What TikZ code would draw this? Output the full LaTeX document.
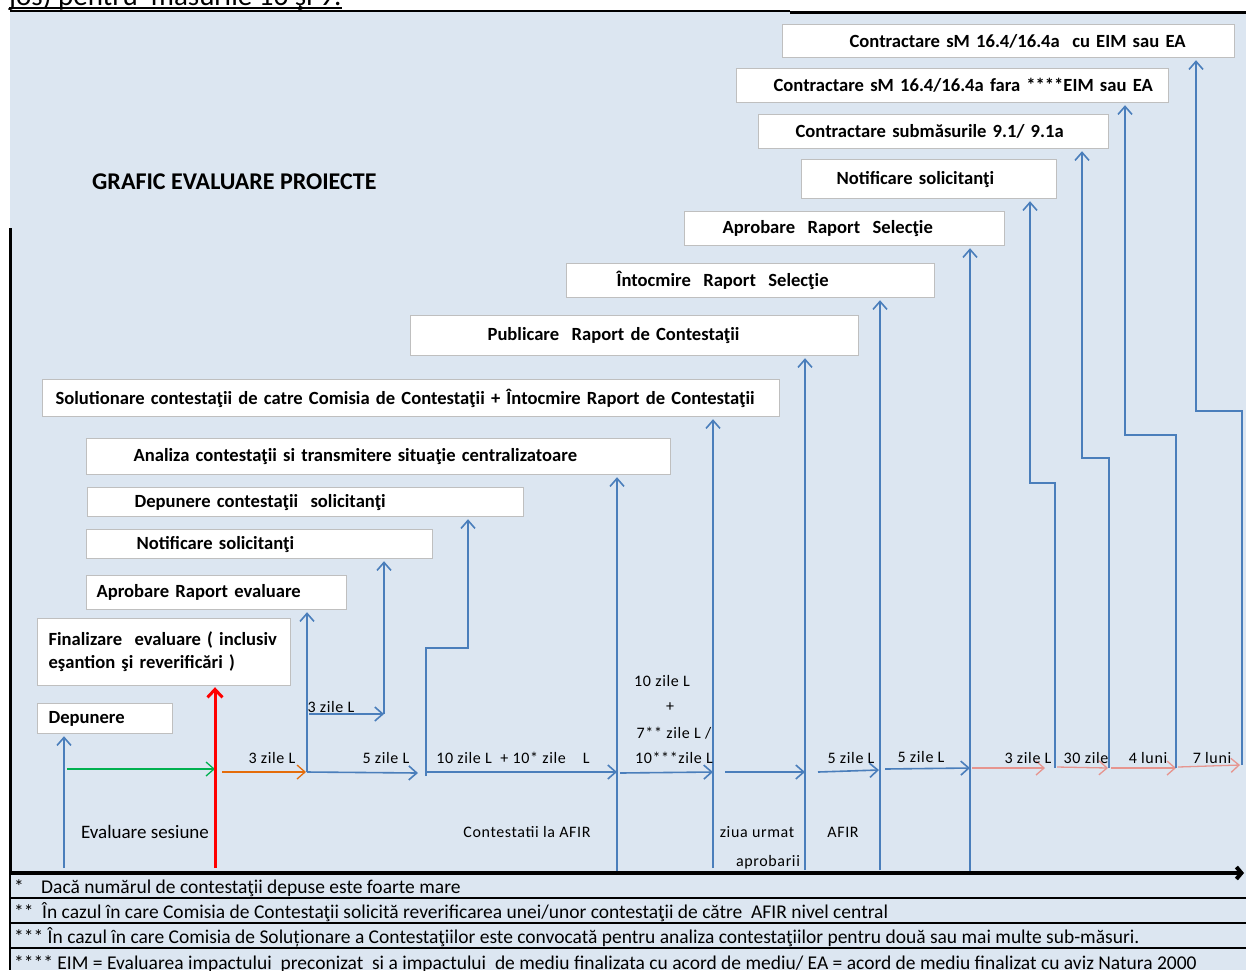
\documentclass[tikz,border=0pt]{standalone}
\usepackage{fontspec}
\setmainfont{Carlito}
\newfontfamily\lblfont[LetterSpace=4]{Carlito}
\usetikzlibrary{arrows.meta}

\definecolor{bgblue}{HTML}{DCE6F1}
\definecolor{lineblue}{HTML}{4A7EBB}
\definecolor{boxgray}{HTML}{BFBFBF}
\definecolor{pinkline}{HTML}{E6958F}
\definecolor{orangeline}{HTML}{E46C0A}
\definecolor{greenline}{HTML}{00B050}

\newcommand*{\boxfont}{\bfseries\fontsize{18.6}{23}\selectfont}
\newcommand*{\lblsize}{\lblfont\fontsize{16}{19}\selectfont}
\newcommand*{\notefont}{\fontsize{19.5}{22}\selectfont}

\begin{document}
\begin{tikzpicture}
[
	x=1pt, y=-1pt,
	box/.style={draw=boxgray, line width=1.2pt, fill=white, font=\boxfont, anchor=north west, align=left, inner xsep=0pt, inner ysep=0pt},
	arr/.style={lineblue, line width=1.6pt, -{Straight Barb[length=8pt,width=14pt]}},
	uparr/.style={arr, shorten >=2pt},
	lbl/.style={font=\lblsize, inner sep=0pt},
	note/.style={font=\notefont, anchor=base west, inner sep=0pt}
]

	\useasboundingbox (0,0) rectangle (1246,970);
	\clip (0,0) rectangle (1246,970);

	% background and frame
	\fill[bgblue] (10,12) rectangle (1246,970);
	\node[anchor=base west, inner sep=0pt, font=\fontsize{29}{33}\selectfont] (headline) at (9,5) {jos) pentru\ \ măsurile 16 şi 9.};
	\draw[line width=1.3pt] ([yshift=-3pt]headline.base west) -- ([yshift=-3pt]headline.base east);
	\draw[line width=1.5pt] (10,11) -- (790,11);
	\draw[line width=3pt] (790,12) -- (1246,12);
	\draw[line width=3pt] (10,228) -- (10,875);

	% title
	\node[font=\bfseries\fontsize{24}{28}\selectfont, anchor=west, inner sep=0pt] (title) at (92,182) {GRAFIC EVALUARE PROIECTE};

	% boxes
	\node[box, text width=452pt, minimum height=33pt] (cEIM) at (782,24) {\hspace*{67pt}Contractare sM 16.4/16.4a\ \ cu EIM sau EA};
	\node[box, text width=432pt, minimum height=34pt] (cFara) at (736,68) {\hspace*{37pt}Contractare sM 16.4/16.4a fara ****EIM sau EA};
	\node[box, text width=350pt, minimum height=34pt] (cNoua) at (758,114) {\hspace*{37pt}Contractare submăsurile 9.1/ 9.1a};
	\node[box, text width=255pt, minimum height=39pt] (notifB) at (801,159) {\hspace*{35pt}Notificare solicitanţi};
	\node[box, text width=320pt, minimum height=34pt] (aprSel) at (684,211) {\hspace*{38pt}Aprobare\ \ Raport\ \ Selecţie};
	\node[box, text width=368pt, minimum height=34pt] (intocSel) at (566,263) {\hspace*{50pt}Întocmire\ \ Raport\ \ Selecţie};
	\node[box, text width=448pt, minimum height=40pt] (publCont) at (410,315) {\hspace*{77pt}Publicare\ \ Raport de Contestaţii};
	\node[box, text width=737pt, minimum height=37pt] (solCont) at (42,379) {\hspace*{13pt}Solutionare contestaţii de catre Comisia de Contestaţii + Întocmire Raport de Contestaţii};
	\node[box, text width=584pt, minimum height=36pt] (analiza) at (86,438) {\hspace*{47pt}Analiza contestaţii si transmitere situaţie centralizatoare};
	\node[box, text width=436pt, minimum height=29pt] (depCont) at (87,487) {\hspace*{47pt}Depunere contestaţii\ \ solicitanţi};
	\node[box, text width=346pt, minimum height=29pt] (notifA) at (86,529) {\hspace*{50pt}Notificare solicitanţi};
	\node[box, text width=260pt, minimum height=34pt] (aprEval) at (86,575) {\hspace*{10pt}Aprobare Raport evaluare};
	\node[box, text width=253pt, minimum height=67pt] (finEval) at (37,618) {\hspace*{11pt}Finalizare\ \ evaluare ( inclusiv\\\hspace*{11pt}eşantion şi reverificări )\\[4pt]};
	\node[box, text width=135pt, minimum height=30pt] (depunere) at (37,703) {\hspace*{11pt}Depunere\\[-2pt]};

	% evaluare sesiune
	\coordinate (s0) at (64,868);
	\draw[uparr] (s0) -- (s0 |- depunere.south);
	\coordinate (g0) at (67,769);
	\coordinate (g1) at (215,769);
	\draw[arr, greenline, line width=1.3pt] (g0) -- (g1);
	\coordinate (r0) at (215,868);
	\draw[red, line width=3pt, -{Straight Barb[length=8pt,width=15pt]}, shorten >=1pt] (r0) -- (r0 |- finEval.south);
	\coordinate (o0) at (222,772);
	\coordinate (o1) at (306,772);
	\draw[arr, orangeline, line width=1.3pt] (o0) -- (o1);

	% evaluare -> contestatii
	\coordinate (e0) at (307,772);
	\draw[uparr] (e0) -- (e0 |- aprEval.south);
	\coordinate (e1) at (418,773);
	\draw[arr] (e0) -- (e1);
	\coordinate (h0) at (309,714);
	\coordinate (h1) at (384,714);
	\draw[arr] (h0) -- (h1);
	\draw[uparr] (h1) -- (h1 |- notifA.south);
	\coordinate (i0) at (426,776);
	\coordinate (i1) at (468,648);
	\draw[uparr] (i0) |- (i1) -- (i1 |- depCont.south);
	\coordinate (j0) at (426,772);
	\coordinate (j1) at (617,772);
	\draw[arr] (j0) -- (j1);
	\coordinate (k0) at (617,875);
	\draw[uparr] (k0) -- (k0 |- analiza.south);
	\coordinate (k1) at (620,773);
	\coordinate (k2) at (713,772);
	\draw[arr] (k1) -- (k2);
	\coordinate (m0) at (713,868);
	\draw[uparr] (m0) -- (m0 |- solCont.south);
	\coordinate (m1) at (725,772);
	\coordinate (m2) at (805,772);
	\draw[arr] (m1) -- (m2);
	\coordinate (n0) at (805,870);
	\draw[uparr] (n0) -- (n0 |- publCont.south);

	% selectie
	\coordinate (n1) at (818,772);
	\coordinate (n2) at (879,770);
	\draw[arr] (n1) -- (n2);
	\coordinate (q0) at (880,870);
	\draw[uparr] (q0) -- (q0 |- intocSel.south);
	\coordinate (q1) at (885,769);
	\coordinate (q2) at (970,768);
	\draw[arr] (q1) -- (q2);
	\coordinate (u0) at (970,875);
	\draw[uparr] (u0) -- (u0 |- aprSel.south);

	% contractare
	\coordinate (u1) at (972,768);
	\coordinate (u2) at (1045,768);
	\draw[arr, pinkline, line width=1.3pt] (u1) -- (u2);
	\coordinate (v0) at (1055,768);
	\coordinate (v1) at (1030,483);
	\draw[uparr] (v0) |- (v1) -- (v1 |- notifB.south);
	\coordinate (v2) at (1057,767);
	\coordinate (v3) at (1108,768);
	\draw[arr, pinkline, line width=1.3pt] (v2) -- (v3);
	\coordinate (w0) at (1109,768);
	\coordinate (w1) at (1082,458);
	\draw[uparr] (w0) |- (w1) -- (w1 |- cNoua.south);
	\coordinate (w2) at (1111,768);
	\coordinate (w3) at (1176,768);
	\draw[arr, pinkline, line width=1.3pt] (w2) -- (w3);
	\coordinate (x0) at (1176,768);
	\coordinate (x1) at (1125,435);
	\draw[uparr] (x0) |- (x1) -- (x1 |- cFara.south);
	\coordinate (x2) at (1178,767);
	\coordinate (x3) at (1240,765);
	\draw[arr, pinkline, line width=1.3pt] (x2) -- (x3);
	\coordinate (y0) at (1242,765);
	\coordinate (y1) at (1196,411);
	\draw[uparr] (y0) |- (y1) -- (y1 |- cEIM.south);

	% durations
	\node[lbl] (d1) at (272,758) {3 zile L};
	\node[lbl] (d2) at (331,707) {3 zile L};
	\node[lbl] (d3) at (386,758) {5 zile L};
	\node[lbl] (d4) at (513,758) {10 zile L\ \ + 10* zile\ \ \ \ L};
	\node[lbl] (d5a) at (662,681) {10 zile L};
	\node[lbl] (d5b) at (670,707) {+};
	\node[lbl] (d5c) at (674,733) {7** zile L /};
	\node[lbl] (d5d) at (674,758) {10***zile L};
	\node[lbl] (d6) at (851,758) {5 zile L};
	\node[lbl] (d7) at (921,757) {5 zile L};
	\node[lbl] (d8) at (1028,758) {3 zile L};
	\node[lbl] (d9) at (1086,758) {30 zile};
	\node[lbl] (d10) at (1148,758) {4 luni};
	\node[lbl] (d11) at (1212,758) {7 luni};

	% phases
	\node[font=\fontsize{19}{22}\selectfont, inner sep=0pt] (ph1) at (145,832) {Evaluare sesiune};
	\node[lbl] (ph2) at (527,832) {Contestatii la AFIR};
	\node[lbl] (ph3) at (757,832) {ziua urmat};
	\node[lbl] (ph4) at (768,862) {aprobarii};
	\node[lbl] (ph5) at (843,832) {AFIR};

	% time axis
	\coordinate (axisL) at (10,873);
	\coordinate (axisR) at (1244,873);
	\draw[line width=4pt, -{Straight Barb[length=5pt,width=12pt]}] (axisL) -- (axisR);

	% notes
	\draw[line width=2pt] (10,873) -- (10,970);
	\foreach \y in {898,923,948}
		\draw[line width=2pt] (10,\y) -- (1246,\y);
	\node[note] (note1) at (14,893) {\makebox[27pt][l]{*}Dacă numărul de contestaţii depuse este foarte mare};
	\node[note] (note2) at (14,918) {\makebox[28pt][l]{**}În cazul în care Comisia de Contestaţii solicită reverificarea unei/unor contestaţii de către\ \ AFIR nivel central};
	\node[note] (note3) at (14,943) {*** În cazul în care Comisia de Soluționare a Contestaţiilor este convocată pentru analiza contestaţiilor pentru două sau mai multe sub-măsuri.};
	\node[note] (note4) at (14,969) {**** EIM = Evaluarea impactului\ \ preconizat\ \ si a impactului\ \ de mediu finalizata cu acord de mediu/ EA = acord de mediu finalizat cu aviz Natura 2000};

\end{tikzpicture}
\end{document}
